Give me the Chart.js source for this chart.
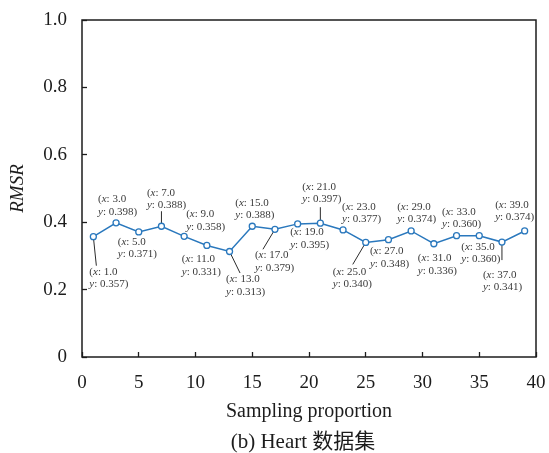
<!DOCTYPE html>
<html>
<head>
<meta charset="utf-8">
<script src="https://cdn.jsdelivr.net/npm/chart.js@4/dist/chart.umd.min.js"></script>
<style>
  html, body { margin: 0; padding: 0; background: #fff; }
  canvas { display: block; }
</style>
</head>
<body>
<canvas id="chart" width="549" height="453"></canvas>
<script>
// RMSR for each sampling proportion on the Heart data set
const samplingProportion = [1, 3, 5, 7, 9, 11, 13, 15, 17, 19, 21, 23, 25, 27, 29, 31, 33, 35, 37, 39];
const rmsrValues = [0.357, 0.398, 0.371, 0.388, 0.358, 0.331, 0.313, 0.388, 0.379, 0.395,
                    0.397, 0.377, 0.340, 0.348, 0.374, 0.336, 0.360, 0.360, 0.341, 0.374];

const xTickLabels = ['0', '5', '10', '15', '20', '25', '30', '35', '40'];
const yTickLabels = ['0', '0.2', '0.4', '0.6', '0.8', '1.0'];
const xAxisTitle = 'Sampling proportion';
const yAxisTitle = 'RMSR';
const caption = '(b) Heart 数据集';

// Where each value label sits: [dx, dy] from its point to the text's left edge
// and the centre of its first line (pixels).
const labelOffsets = [
  [-4, 35], [-18, -23.7], [-21, 10], [-14.5, -33.3], [2, -22],
  [-25, 14], [-3.5, 28], [-17, -23.4], [-20, 26], [-7.5, 8.5],
  [-18, -36.3], [-1, -23], [-33, 29.5], [-18.5, 11.5], [-14, -24],
  [-16, 14.5], [-14.5, -24], [-18, 11], [-19, 33], [-29.5, -26]
];
// Leader line end relative to its point; null where the label sits next to the point.
const leaderEnds = [
  [3, 29], null, null, [0, -15], null,
  null, [10.5, 21.5], null, [-12, 20], null,
  [0, -16], null, [-13, 22], null, null,
  null, null, null, [0, 18], null
];

const SERIF = '"Liberation Serif", "Times New Roman", "Noto Sans CJK SC", serif';
const LINE_BLUE = '#2a78bd';
const INK = '#1c1c1c';

function drawRuns(ctx, runs, x, y, size) {
  let cx = x;
  for (const [text, italic] of runs) {
    ctx.font = (italic ? 'italic ' : '') + size + 'px ' + SERIF;
    ctx.fillText(text, cx, y);
    cx += ctx.measureText(text).width;
  }
}

const valueLabels = {
  id: 'valueLabels',
  beforeDatasetsDraw(chart) {
    const ctx = chart.ctx;
    const pts = chart.getDatasetMeta(0).data;
    ctx.save();
    ctx.strokeStyle = '#2b2b2b';
    ctx.lineWidth = 1;
    pts.forEach((p, i) => {
      const end = leaderEnds[i];
      if (!end) return;
      ctx.beginPath();
      ctx.moveTo(p.x, p.y);
      ctx.lineTo(p.x + end[0], p.y + end[1]);
      ctx.stroke();
    });
    ctx.restore();
  },
  afterDatasetsDraw(chart) {
    const ctx = chart.ctx;
    const pts = chart.getDatasetMeta(0).data;
    ctx.save();
    ctx.fillStyle = '#3a3a3a';
    ctx.textBaseline = 'middle';
    ctx.textAlign = 'left';
    pts.forEach((p, i) => {
      const [dx, dy] = labelOffsets[i];
      const xv = samplingProportion[i].toFixed(1);
      const yv = rmsrValues[i].toFixed(3);
      drawRuns(ctx, [['(', false], ['x', true], [': ' + xv, false]], p.x + dx, p.y + dy, 11);
      drawRuns(ctx, [['y', true], [': ' + yv + ')', false]], p.x + dx, p.y + dy + 12.5, 11);
    });
    ctx.restore();
  }
};

const frameAndCaption = {
  id: 'frameAndCaption',
  afterDraw(chart) {
    const { ctx, chartArea: a } = chart;
    ctx.save();
    ctx.strokeStyle = INK;
    ctx.lineWidth = 1.5;
    ctx.strokeRect(a.left, a.top, a.right - a.left, a.bottom - a.top);
    ctx.fillStyle = INK;
    ctx.font = '21px ' + SERIF;
    ctx.textAlign = 'center';
    ctx.textBaseline = 'middle';
    ctx.fillText(caption, (a.left + a.right) / 2 - 6, 442);
    ctx.restore();
  }
};

new Chart(document.getElementById('chart'), {
  type: 'line',
  data: {
    datasets: [{
      data: samplingProportion.map((x, i) => ({ x, y: rmsrValues[i] })),
      borderColor: LINE_BLUE,
      borderWidth: 1.5,
      pointRadius: 3,
      pointBorderWidth: 1.3,
      pointBackgroundColor: '#ffffff',
      pointBorderColor: LINE_BLUE,
      tension: 0
    }]
  },
  options: {
    responsive: false,
    animation: false,
    events: [],
    layout: { padding: { top: 20, right: 13, left: 0, bottom: 0 } },
    plugins: { legend: { display: false }, tooltip: { enabled: false }, title: { display: false } },
    scales: {
      x: {
        type: 'linear',
        min: 0, max: 40,
        afterFit(scale) {
          scale.height = 96;
          scale.paddingLeft = 0;
          scale.paddingRight = 0;
        },
        afterBuildTicks(scale) {
          scale.ticks = xTickLabels.map(t => ({ value: Number(t) }));
        },
        ticks: {
          color: INK,
          font: { family: SERIF, size: 19 },
          padding: 20,
          maxRotation: 0,
          autoSkip: false,
          callback: (v, i) => xTickLabels[i]
        },
        grid: { drawOnChartArea: false, tickLength: -5, tickWidth: 1.3, tickColor: INK },
        border: { display: false },
        title: {
          display: true,
          text: xAxisTitle,
          color: INK,
          font: { family: SERIF, size: 20 },
          padding: { top: 0, bottom: 29 }
        }
      },
      y: {
        min: 0, max: 1,
        afterFit(scale) {
          scale.width = 82;
          scale.paddingTop = 0;
          scale.paddingBottom = 0;
        },
        afterBuildTicks(scale) {
          scale.ticks = yTickLabels.map(t => ({ value: Number(t) }));
        },
        ticks: {
          color: INK,
          font: { family: SERIF, size: 19 },
          padding: 20,
          autoSkip: false,
          callback: (v, i) => yTickLabels[i]
        },
        grid: { drawOnChartArea: false, tickLength: -5, tickWidth: 1.3, tickColor: INK },
        border: { display: false },
        title: {
          display: true,
          text: yAxisTitle,
          color: INK,
          font: { family: SERIF, size: 19, style: 'italic' },
          padding: { top: 7, bottom: 0 }
        }
      }
    }
  },
  plugins: [valueLabels, frameAndCaption]
});
</script>
</body>
</html>
